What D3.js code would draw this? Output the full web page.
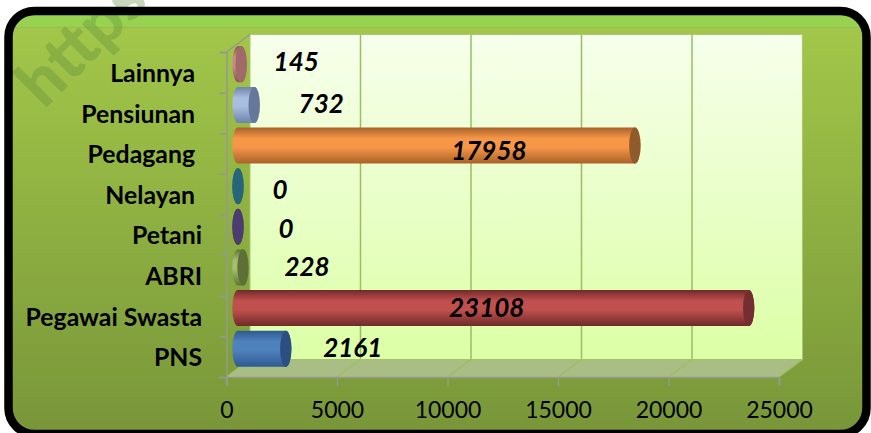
<!DOCTYPE html>
<html><head><meta charset="utf-8">
<script src="https://cdnjs.cloudflare.com/ajax/libs/d3/7.8.5/d3.min.js"></script>
<style>html,body{margin:0;padding:0;background:#fff;overflow:hidden}svg{display:block}</style>
</head><body><svg id="c" width="871" height="433"></svg>
<script>
// top-to-bottom order of the picture
const categories = ["Lainnya","Pensiunan","Pedagang","Nelayan","Petani","ABRI","Pegawai Swasta","PNS"];
const values = [145,732,17958,0,0,228,23108,2161];
const xTicks = [0,5000,10000,15000,20000,25000];
const barColors = [
  {mid:"#c98a88",edge:"#8a5553",cap:"#a06a68"},
  {mid:"#a9bde0",edge:"#6f83a8",cap:"#65779a"},
  {mid:"#f79646",edge:"#a8622a",cap:"#8f5a2c"},
  {mid:"#2f7a8c",edge:"#1f5c6c",cap:"#27667a"},
  {mid:"#5f4a80",edge:"#3f2f5c",cap:"#4d3c70"},
  {mid:"#a6bd74",edge:"#5f7536",cap:"#5d7036"},
  {mid:"#c0504d",edge:"#6f2a2a",cap:"#752e30"},
  {mid:"#4f81bd",edge:"#2f5a90",cap:"#2b4f80"}
];
// hand placement of the labels in the original, in px
const labelNudge = [[55,-2],[67,-1],[-146,5],[42,4],[48,2],[64,-1],[-262,0],[67,-1]];
const catNudge = [-7,-7,-7,-7,0,0,0,0];

const svg = d3.select("#c");
const defs = svg.append("defs");
const FONT = "Lato, 'Open Sans', sans-serif";

// frame and background
const bg = defs.append("linearGradient").attr("id","bg").attr("x1",0).attr("x2",0).attr("y1",0).attr("y2",1);
bg.append("stop").attr("offset",0).attr("stop-color","#a4c94a");
bg.append("stop").attr("offset",1).attr("stop-color","#789639");
const frame = {x:8.5,y:11,w:858,h:423,r:26};
svg.append("rect").attr("x",frame.x).attr("y",frame.y).attr("width",frame.w).attr("height",frame.h).attr("rx",frame.r).attr("fill","url(#bg)");
defs.append("clipPath").attr("id","frameClip").append("rect").attr("x",frame.x).attr("y",frame.y).attr("width",frame.w).attr("height",frame.h).attr("rx",frame.r);
svg.append("rect").attr("x",frame.x).attr("y",frame.y).attr("width",frame.w).attr("height",16.5).attr("fill","#97d350").attr("clip-path","url(#frameClip)");
svg.append("line").attr("x1",frame.x).attr("x2",frame.x+frame.w).attr("y1",27.5).attr("y2",27.5).attr("stroke","#9dbf52").attr("stroke-width",1.5).attr("clip-path","url(#frameClip)");

// watermark
svg.append("text").text("https").attr("transform","translate(44,110) rotate(-45)")
  .attr("font-family",FONT).attr("font-weight",900).attr("font-size",66)
  .attr("fill","#5f8a3c").attr("fill-opacity",0.34);

svg.append("rect").attr("x",frame.x).attr("y",frame.y).attr("width",frame.w).attr("height",frame.h).attr("rx",frame.r)
  .attr("fill","none").attr("stroke","#000").attr("stroke-width",8.5);

// scales
const front = {top:52,bottom:377};
const depth = {dx:23.5,dy:-17.5};
const x = d3.scaleLinear().domain([0,25000]).range([226.5,779]);
const y = d3.scaleBand().domain(categories).range([front.top,front.bottom]);

// back wall
const wall = defs.append("linearGradient").attr("id","wall").attr("x1",0).attr("x2",0).attr("y1",0).attr("y2",1);
wall.append("stop").attr("offset",0).attr("stop-color","#f7ffec");
wall.append("stop").attr("offset",1).attr("stop-color","#dcffa6");
const g = svg.append("g");
g.append("rect").attr("x",x(0)+depth.dx).attr("y",front.top+depth.dy)
 .attr("width",x(25000)-x(0)).attr("height",front.bottom-front.top)
 .attr("fill","url(#wall)").attr("stroke","#a9c873").attr("stroke-width",1);

// floor
const floorPts = [[x(0),front.bottom],[x(25000),front.bottom],[x(25000)+depth.dx,front.bottom+depth.dy],[x(0)+depth.dx,front.bottom+depth.dy]];
g.append("polygon").attr("points",floorPts.join(" ")).attr("fill","#a9bd85");

// gridlines and diagonals
xTicks.slice(1).forEach(t=>{
  if(t<25000) g.append("line").attr("x1",x(t)+depth.dx).attr("x2",x(t)+depth.dx).attr("y1",front.top+depth.dy).attr("y2",front.bottom+depth.dy).attr("stroke","#9dbd62").attr("stroke-width",1.5);
  g.append("line").attr("x1",x(t)+depth.dx).attr("x2",x(t)).attr("y1",front.bottom+depth.dy).attr("y2",front.bottom).attr("stroke","#9dbd62").attr("stroke-width",1.2);
});
g.append("line").attr("x1",x(0)+depth.dx).attr("x2",x(25000)+depth.dx).attr("y1",front.bottom+depth.dy).attr("y2",front.bottom+depth.dy).attr("stroke","#a5c46a").attr("stroke-width",1.2);
g.append("line").attr("x1",x(0)).attr("x2",x(0)+depth.dx).attr("y1",front.top).attr("y2",front.top+depth.dy).attr("stroke","#959a8c").attr("stroke-width",1.5);
g.append("line").attr("x1",x(0)).attr("x2",x(0)+depth.dx).attr("y1",front.bottom).attr("y2",front.bottom+depth.dy).attr("stroke","#a5c46a").attr("stroke-width",1.2);

// x axis
const ax = svg.append("g").attr("transform",`translate(0,${front.bottom})`)
  .call(d3.axisBottom(x).tickValues(xTicks).tickFormat(d3.format("d")).tickSize(9).tickPadding(16));
ax.select(".domain").attr("stroke","#959a8c").attr("stroke-width",1.5);
ax.selectAll(".tick line").attr("stroke","#959a8c").attr("stroke-width",1.5);
ax.selectAll("text").attr("font-family",FONT).attr("font-size",23).attr("fill","#000");

// y axis
const ay = svg.append("g").attr("transform",`translate(${x(0)},0)`)
  .call(d3.axisLeft(d3.scalePoint().domain(d3.range(9)).range([front.top,front.bottom])).tickFormat("").tickSize(7));
ay.select(".domain").attr("stroke","#959a8c").attr("stroke-width",1.5);
ay.selectAll(".tick line").attr("stroke","#959a8c").attr("stroke-width",1.5);
svg.append("line").attr("x1",x(0)).attr("x2",x(0)).attr("y1",front.bottom).attr("y2",front.bottom+7).attr("stroke","#959a8c").attr("stroke-width",1.5);

// category labels
svg.append("g").selectAll("text").data(categories).join("text")
  .attr("x",(d,i)=>202+catNudge[i]).attr("y",d=>y(d)+y.bandwidth()/2+1)
  .attr("dy","0.35em").attr("text-anchor","end").text(d=>d)
  .attr("font-family",FONT).attr("font-weight",700).attr("font-size",24.8).attr("fill","#000");

// cylinders
const barShift = {dx:11.5,dy:-8.5};
const rx = 5.7, ry = 18;
barColors.forEach((c,i)=>{
  const gr = defs.append("linearGradient").attr("id","b"+i).attr("x1",0).attr("x2",0).attr("y1",0).attr("y2",1);
  gr.append("stop").attr("offset",0).attr("stop-color",c.edge);
  gr.append("stop").attr("offset",0.3).attr("stop-color",c.mid);
  gr.append("stop").attr("offset",0.55).attr("stop-color",c.mid);
  gr.append("stop").attr("offset",1).attr("stop-color",c.edge);
});
const cy = d=>y(d.c)+y.bandwidth()/2+barShift.dy+0.5;
const rows = categories.map((c,i)=>({c,i,v:values[i]}));
const bars = svg.append("g").selectAll("g").data(rows).join("g");
bars.append("path").attr("d",d=>{
  const x0=x(0)+barShift.dx, x1=x(d.v)+barShift.dx, m=cy(d);
  return `M${x0},${m-ry}L${x1},${m-ry}A${rx},${ry} 0 0 1 ${x1},${m+ry}L${x0},${m+ry}A${rx},${ry} 0 0 1 ${x0},${m-ry}Z`;
}).attr("fill",d=>`url(#b${d.i})`);
bars.append("ellipse").attr("cx",d=>x(d.v)+barShift.dx).attr("cy",cy).attr("rx",rx).attr("ry",ry)
  .attr("fill",d=>barColors[d.i].cap);

// value labels
svg.append("g").selectAll("text").data(rows).join("text")
  .attr("x",d=>x(d.v)+barShift.dx+labelNudge[d.i][0]).attr("y",d=>cy(d)+labelNudge[d.i][1])
  .attr("dy","0.35em").attr("text-anchor","middle").text(d=>d.v)
  .attr("font-family",FONT).attr("font-weight",700).attr("font-style","italic").attr("font-size",26).attr("fill","#000");
</script></body></html>
